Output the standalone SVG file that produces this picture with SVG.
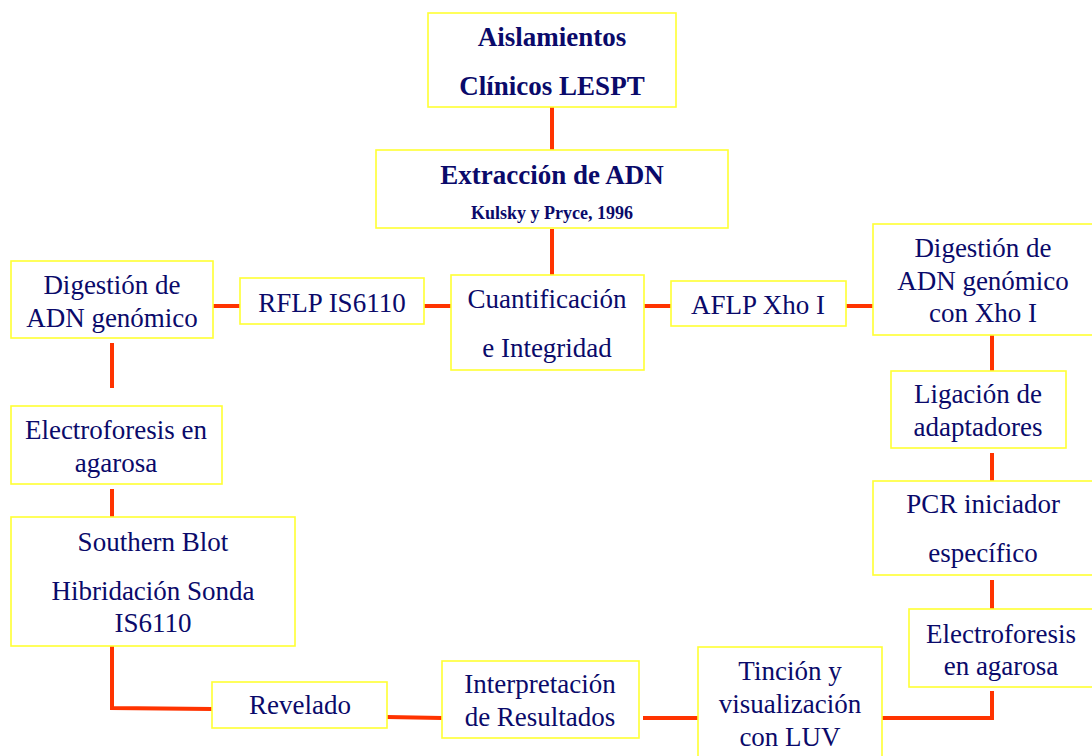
<svg xmlns="http://www.w3.org/2000/svg" width="1092" height="756" viewBox="0 0 1092 756">
<style>
.box{fill:#ffffff;stroke:#ffff33;stroke-width:1.6}
.t{font-family:"Liberation Serif","Times New Roman",serif;font-size:27px;fill:#0a0a6a;text-anchor:middle}
.b{font-weight:bold}
.s{font-size:18px}
.c{fill:none;stroke:#ff3300;stroke-width:4}
</style>
<rect width="1092" height="756" fill="#ffffff"/>
<g id="connectors">
<line class="c" x1="552" y1="107" x2="552" y2="150"/>
<line class="c" x1="552" y1="229" x2="552" y2="275"/>
<line class="c" x1="213" y1="306" x2="240" y2="306"/>
<line class="c" x1="424" y1="306" x2="451" y2="306"/>
<line class="c" x1="644" y1="306" x2="671" y2="306"/>
<line class="c" x1="846" y1="306" x2="873" y2="306"/>
<line class="c" x1="112" y1="343" x2="112" y2="388"/>
<line class="c" x1="112" y1="489" x2="112" y2="517"/>
<polyline class="c" points="112,646 112,708 212,709"/>
<line class="c" x1="387" y1="717" x2="442" y2="718"/>
<line class="c" x1="643" y1="718" x2="699" y2="718"/>
<polyline class="c" points="882,718 992,718 992,691"/>
<line class="c" x1="992" y1="580" x2="992" y2="609"/>
<line class="c" x1="992" y1="453" x2="992" y2="481"/>
<line class="c" x1="992" y1="334" x2="992" y2="371"/>
</g>
<g id="n-aislamientos">
<rect class="box" x="428" y="13" width="248" height="94"/>
<text class="t b" x="552" y="46">Aislamientos</text>
<text class="t b" x="552" y="95">Clínicos LESPT</text>
</g>
<g id="n-extraccion">
<rect class="box" x="376" y="150" width="352" height="78"/>
<text class="t b" x="552" y="184">Extracción de ADN</text>
<text class="t b s" x="552" y="219">Kulsky y Pryce, 1996</text>
</g>
<g id="n-cuantificacion">
<rect class="box" x="451" y="275" width="193" height="95"/>
<text class="t" x="547" y="308">Cuantificación</text>
<text class="t" x="547" y="357">e Integridad</text>
</g>
<g id="n-rflp">
<rect class="box" x="240" y="278" width="184" height="46"/>
<text class="t" x="332" y="312">RFLP IS6110</text>
</g>
<g id="n-digestion-izq">
<rect class="box" x="11" y="261" width="202" height="77"/>
<text class="t" x="112" y="294">Digestión de</text>
<text class="t" x="112" y="327">ADN genómico</text>
</g>
<g id="n-electroforesis-izq">
<rect class="box" x="11" y="406" width="211" height="78"/>
<text class="t" x="116" y="439">Electroforesis en</text>
<text class="t" x="116" y="472">agarosa</text>
</g>
<g id="n-southern">
<rect class="box" x="11" y="517" width="284" height="129"/>
<text class="t" x="153" y="551">Southern Blot</text>
<text class="t" x="153" y="600">Hibridación Sonda</text>
<text class="t" x="153" y="632">IS6110</text>
</g>
<g id="n-revelado">
<rect class="box" x="212" y="682" width="175" height="46"/>
<text class="t" x="300" y="714">Revelado</text>
</g>
<g id="n-interpretacion">
<rect class="box" x="442" y="661" width="197" height="77"/>
<text class="t" x="540" y="693">Interpretación</text>
<text class="t" x="540" y="726">de Resultados</text>
</g>
<g id="n-tincion">
<rect class="box" x="698" y="647" width="184" height="115"/>
<text class="t" x="790" y="680">Tinción y</text>
<text class="t" x="790" y="713">visualización</text>
<text class="t" x="790" y="746">con LUV</text>
</g>
<g id="n-aflp">
<rect class="box" x="671" y="281" width="175" height="45"/>
<text class="t" x="758" y="314">AFLP Xho I</text>
</g>
<g id="n-digestion-der">
<rect class="box" x="873" y="224" width="222" height="111"/>
<text class="t" x="983" y="257">Digestión de</text>
<text class="t" x="983" y="290">ADN genómico</text>
<text class="t" x="983" y="322">con Xho I</text>
</g>
<g id="n-ligacion">
<rect class="box" x="891" y="371" width="175" height="77"/>
<text class="t" x="978" y="403">Ligación de</text>
<text class="t" x="978" y="436">adaptadores</text>
</g>
<g id="n-pcr">
<rect class="box" x="873" y="481" width="222" height="94"/>
<text class="t" x="983" y="513">PCR iniciador</text>
<text class="t" x="983" y="562">específico</text>
</g>
<g id="n-electroforesis-der">
<rect class="box" x="909" y="609" width="186" height="78"/>
<text class="t" x="1001" y="643">Electroforesis</text>
<text class="t" x="1001" y="675">en agarosa</text>
</g>
</svg>
